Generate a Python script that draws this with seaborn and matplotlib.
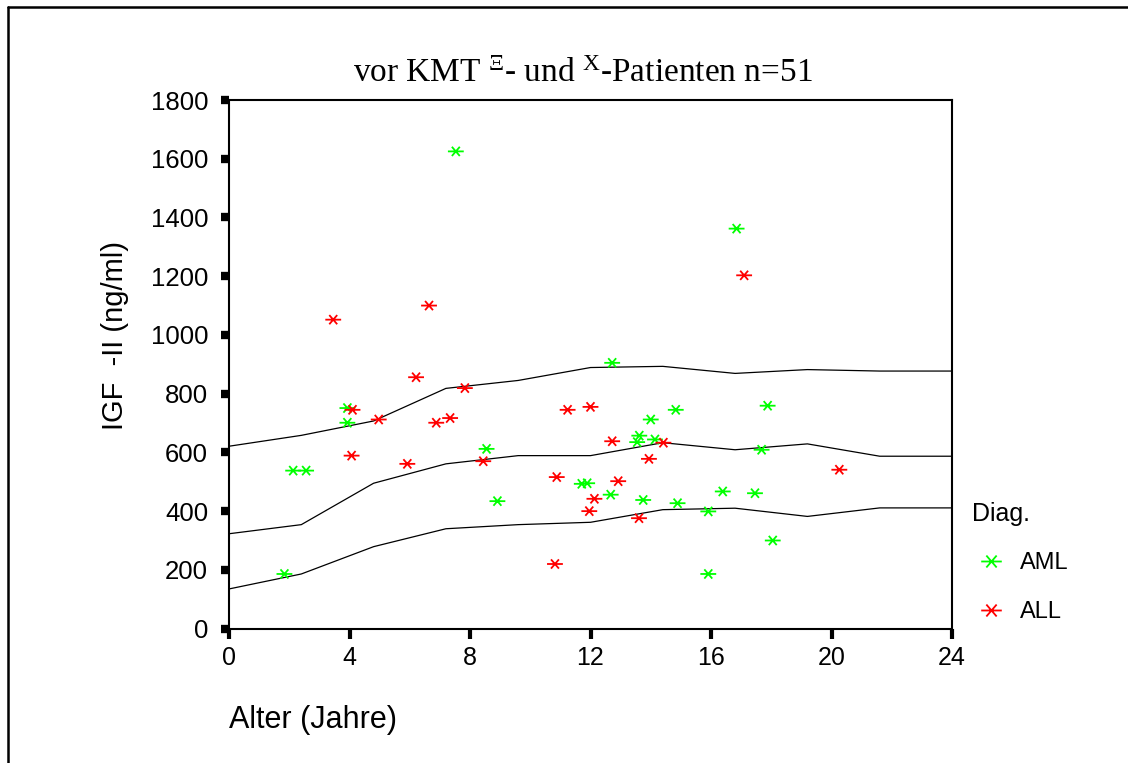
import numpy as np
import pandas as pd
import matplotlib
matplotlib.use("Agg")
import matplotlib.pyplot as plt
from matplotlib.path import Path
from matplotlib.lines import Line2D
import seaborn as sns

# --- Patient measurements: age (years) and IGF-II (ng/ml) by diagnosis ---
aml_age = [7.53, 16.85, 12.72, 17.88, 14.83, 14.00, 13.62, 13.55, 14.14, 17.68,
           3.93, 3.93, 8.55, 2.13, 2.56, 8.91, 1.84, 11.71, 11.89, 12.67,
           13.75, 14.89, 15.91, 16.39, 17.46, 18.05, 15.91]
aml_igf = [1625, 1362, 905, 759, 745, 712, 657, 635, 644, 609,
           751, 701, 612, 538, 538, 434, 186, 493, 495, 456,
           438, 427, 399, 467, 461, 300, 186]

all_age = [17.10, 3.46, 6.64, 6.21, 7.83, 4.10, 4.97, 6.88, 7.34, 11.24,
           12.00, 4.07, 5.92, 8.44, 10.88, 10.82, 12.13, 11.96, 12.72, 14.42,
           13.94, 12.92, 13.61, 20.26]
all_igf = [1203, 1052, 1100, 856, 819, 745, 712, 701, 717, 745,
           755, 589, 561, 570, 516, 220, 442, 400, 638, 633,
           578, 502, 376, 541]

# --- Reference percentile curves (age grid in years) ---
ref_age = [0, 2.4, 4.8, 7.2, 9.6, 12.0, 14.4, 16.8, 19.2, 21.6, 24.0]
ref_upper = [621, 658, 707, 818, 845, 889, 893, 869, 882, 877, 877]
ref_middle = [323, 354, 495, 561, 589, 589, 633, 609, 629, 587, 587]
ref_lower = [135, 186, 279, 340, 354, 362, 405, 410, 382, 411, 411]

diagnoses = ["AML", "ALL"]
diag_colors = {"AML": "#00ff00", "ALL": "#ff0000"}
x_ticks = [0, 4, 8, 12, 16, 20, 24]
y_ticks = [0, 200, 400, 600, 800, 1000, 1200, 1400, 1600, 1800]

df = pd.DataFrame({
    "Alter": aml_age + all_age,
    "IGF": aml_igf + all_igf,
    "Diag.": ["AML"] * len(aml_age) + ["ALL"] * len(all_age),
})

sns.set_style("ticks")
plt.rcParams["font.family"] = ["Liberation Sans", "DejaVu Sans"]
plt.rcParams["text.color"] = "black"
plt.rcParams["axes.labelcolor"] = "black"

# Asterisk marker: long horizontal bar crossed by a smaller X
star_path = Path(
    [(-1, 0), (1, 0), (-0.5, -0.58), (0.5, 0.58), (-0.5, 0.58), (0.5, -0.58)],
    [Path.MOVETO, Path.LINETO, Path.MOVETO, Path.LINETO, Path.MOVETO, Path.LINETO],
)

W, H = 1128, 763
fig = plt.figure(figsize=(W / 100, H / 100), dpi=100)
ax = fig.add_axes([229 / W, 1 - 628.6 / H, 723 / W, 528.6 / H])

for curve in (ref_upper, ref_middle, ref_lower):
    sns.lineplot(x=ref_age, y=curve, color="black", linewidth=0.9, ax=ax,
                 sort=False, legend=False)

sns.scatterplot(data=df, x="Alter", y="IGF", hue="Diag.", hue_order=diagnoses,
                palette=diag_colors, marker=star_path, s=130, edgecolor="face",
                linewidth=1.3, ax=ax, zorder=3)

ax.set_xlim(0, 24)
ax.set_ylim(0, 1800)
ax.set_xticks(x_ticks)
ax.set_yticks(y_ticks)
ax.set_xlabel("")
ax.set_ylabel("")

for side in ("left", "right", "top", "bottom"):
    ax.spines[side].set_visible(True)
    ax.spines[side].set_linewidth(1.5)
    ax.spines[side].set_color("black")

ax.tick_params(axis="y", direction="out", length=5.5, width=6, pad=9.5,
               labelsize=18.5, colors="black")
ax.tick_params(axis="x", direction="out", length=7.5, width=3, pad=5,
               labelsize=18, colors="black")

sns.move_legend(ax, "upper left", bbox_to_anchor=(953 / W, 1 - 483 / H),
                bbox_transform=fig.transFigure, frameon=False, title="Diag.",
                title_fontsize=18, fontsize=17, alignment="left",
                handlelength=1.6, handletextpad=0.45, labelspacing=1.12,
                borderpad=0.3, markerscale=1.3)

fig.text(583 / W, 1 - 74 / H,
         r"vor KMT $\mathregular{^{Ξ}}$- und $\mathregular{^{X}}$-Patienten n=51",
         family=["Liberation Serif", "DejaVu Serif"], fontsize=24,
         ha="center", va="center")
fig.text(115 / W, 1 - 335 / H, "IGF  -II (ng/ml)", rotation=90,
         fontsize=21, ha="center", va="center")
fig.text(229 / W, 1 - 720 / H, "Alter (Jahre)", fontsize=22,
         ha="left", va="center")

# Page frame
fig.add_artist(Line2D([8 / W, 8 / W], [0, 1 - 6.5 / H], transform=fig.transFigure,
                      color="black", linewidth=1.8))
fig.add_artist(Line2D([8 / W, 1], [1 - 6.5 / H, 1 - 6.5 / H],
                      transform=fig.transFigure, color="black", linewidth=1.8))

fig.savefig("out.png", dpi=100, facecolor="white")
